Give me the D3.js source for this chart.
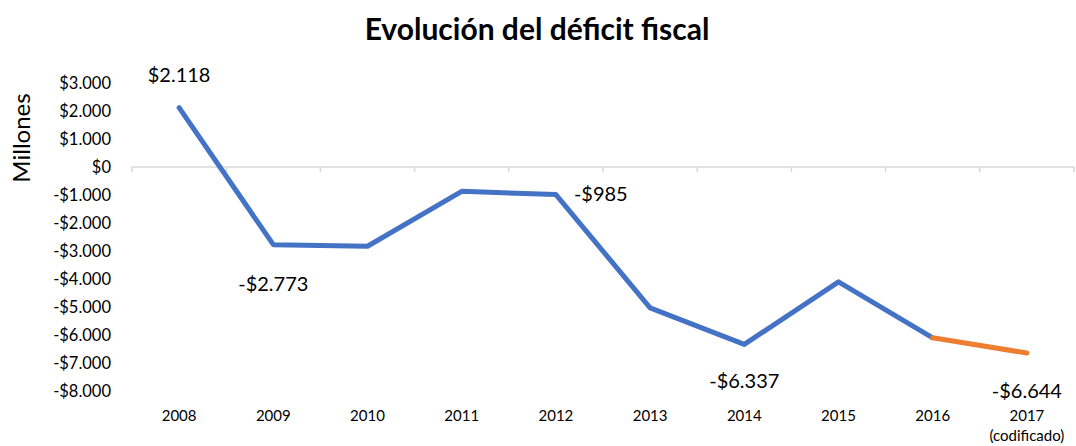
<!DOCTYPE html>
<html>
<head>
<meta charset="utf-8">
<script src="https://cdn.jsdelivr.net/npm/d3@7"></script>
<style>
  body { margin: 0; background: #fff; }
  text { font-family: Lato, "Open Sans", sans-serif; fill: #000; }
</style>
</head>
<body>
<div id="chart"></div>
<script>
// datos
var years = ["2008", "2009", "2010", "2011", "2012", "2013", "2014", "2015", "2016", "2017"];
var deficit = [2118, -2773, -2830, -870, -985, -5030, -6337, -4100, -6100, -6644];
var yTicks = [3000, 2000, 1000, 0, -1000, -2000, -3000, -4000, -5000, -6000, -7000, -8000];
var shownLabels = ["2008", "2009", "2012", "2014", "2017"];

var outwidth = 1076, outheight = 446;
var margin = { left: 132, top: 83, right: 2, bottom: 55 };

var svg = d3.select("#chart").append("svg")
    .attr("width", outwidth)
    .attr("height", outheight);

svg.append("text")
    .attr("x", 537)
    .attr("y", 40)
    .attr("text-anchor", "middle")
    .style("font-size", "30px")
    .style("font-weight", "bold")
    .text("Evolución del déficit fiscal");

var g = svg.append("g")
    .attr("transform", `translate(${margin.left},${margin.top})`);

var x = d3.scaleBand().domain(years).range([0, 942]);
var y = d3.scaleLinear().domain([-8000, 3000]).range([308, 0]);

var fmt = function (v) {
    var s = d3.format(",")(Math.abs(v)).replace(/,/g, ".");
    return (v < 0 ? "-$" : "$") + s;
};

// eje Y (sin línea)
g.append("g")
    .attr("class", "y-axis")
    .call(d3.axisLeft(y).tickValues(yTicks).tickSize(0).tickPadding(21).tickFormat(fmt))
    .call(s => s.select(".domain").remove())
    .selectAll("text")
    .style("font-size", "16.5px")
    .attr("dy", "0.35em");

svg.append("text")
    .attr("transform", "translate(30,138) rotate(-90)")
    .attr("text-anchor", "middle")
    .style("font-size", "24px")
    .text("Millones");

// eje X en cero
var xAxis = g.append("g")
    .attr("transform", `translate(0,${y(0)})`);
xAxis.append("line")
    .attr("x1", 0).attr("x2", 942)
    .attr("stroke", "#d9d9d9").attr("stroke-width", 1.5);
xAxis.selectAll(".tk")
    .data(d3.range(years.length + 1))
    .join("line")
    .attr("class", "tk")
    .attr("x1", i => i * x.step()).attr("x2", i => i * x.step())
    .attr("y1", 0).attr("y2", 5)
    .attr("stroke", "#d9d9d9").attr("stroke-width", 1.5);

g.selectAll(".x-lab")
    .data(years)
    .join("text")
    .attr("class", "x-lab")
    .attr("x", d => x(d) + x.bandwidth() / 2)
    .attr("y", 338)
    .attr("text-anchor", "middle")
    .style("font-size", "15px")
    .text(d => d);
g.append("text")
    .attr("x", x("2017") + x.bandwidth() / 2)
    .attr("y", 358)
    .attr("text-anchor", "middle")
    .style("font-size", "15px")
    .text("(codificado)");

var pts = years.map((d, i) => ({ year: d, value: deficit[i] }));
var line = d3.line()
    .x(d => x(d.year) + x.bandwidth() / 2)
    .y(d => y(d.value));

g.append("path")
    .datum(pts.slice(0, 9))
    .attr("d", line)
    .attr("fill", "none")
    .attr("stroke", "#4472C4")
    .attr("stroke-width", 5)
    .attr("stroke-linecap", "round")
    .attr("stroke-linejoin", "round");
g.append("path")
    .datum(pts.slice(8))
    .attr("d", line)
    .attr("fill", "none")
    .attr("stroke", "#ED7D31")
    .attr("stroke-width", 5)
    .attr("stroke-linecap", "round")
    .attr("stroke-linejoin", "round");

// etiquetas de datos
var labelPos = {
    "2008": { dx: 0, dy: -26, anchor: "middle" },
    "2009": { dx: 0, dy: 46, anchor: "middle" },
    "2012": { dx: 18, dy: 6, anchor: "start" },
    "2014": { dx: 0, dy: 44, anchor: "middle" },
    "2017": { dx: 0, dy: 45, anchor: "middle" }
};
g.selectAll(".val")
    .data(pts.filter(d => shownLabels.indexOf(d.year) >= 0))
    .join("text")
    .attr("class", "val")
    .attr("x", d => x(d.year) + x.bandwidth() / 2 + labelPos[d.year].dx)
    .attr("y", d => y(d.value) + labelPos[d.year].dy)
    .attr("text-anchor", d => labelPos[d.year].anchor)
    .style("font-size", "20px")
    .text(d => fmt(d.value));
</script>
</body>
</html>
